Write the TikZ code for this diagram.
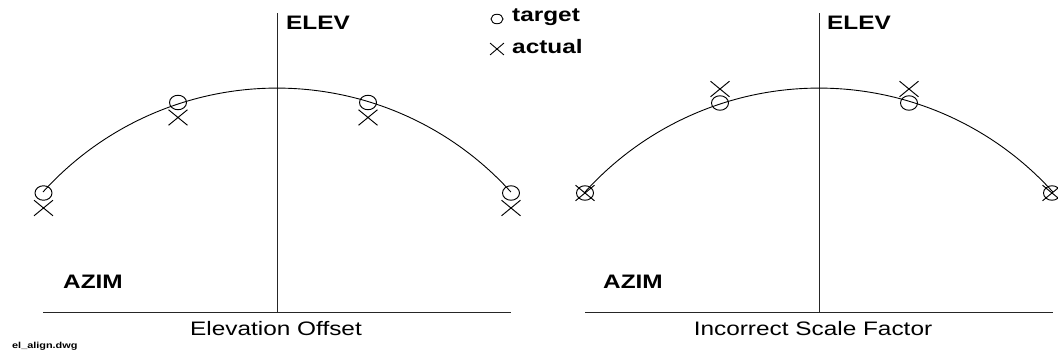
\documentclass[tikz,border=0pt]{standalone}
\usepackage{fontspec}
\setmainfont{Liberation Sans}
\usetikzlibrary{shapes.geometric,shapes.misc}
\tikzset{
  axisline/.style={line width=0.9pt, black!85},
  curveline/.style={line width=0.9pt, black},
  tgt/.style={draw, ellipse, line width=0.95pt, minimum width=17pt, minimum height=14.5pt, inner sep=0pt},
  act/.style={draw, cross out, line width=0.95pt, minimum width=18pt, minimum height=14.6pt, inner sep=0pt},
  ltgt/.style={draw, ellipse, line width=0.9pt, minimum width=12pt, minimum height=9.5pt, inner sep=0pt},
  lact/.style={draw, cross out, line width=0.9pt, minimum width=13pt, minimum height=11pt, inner sep=0pt},
  lbl/.style={inner sep=0pt, anchor=base west, font=\fontsize{19.5}{22}\selectfont\bfseries},
  ttl/.style={inner sep=0pt, anchor=base, font=\fontsize{19.5}{22}\selectfont},
  fname/.style={inner sep=0pt, anchor=base west, font=\fontsize{8.7}{10}\selectfont\bfseries}
}
\newcommand{\hs}[1]{\scalebox{1.25}[1]{#1}}
\begin{document}
\begin{tikzpicture}[x=1pt,y=-1pt]
\fill[white] (0,0) rectangle (1058,356);
\useasboundingbox (0,0) rectangle (1058,356);

% ---------- left panel ----------
\coordinate (LT) at (277,13);
\coordinate (LB) at (277,312);
\coordinate (LL) at (43,312);
\coordinate (LR) at (511,312);
\coordinate (LC0) at (43,192);
\draw[axisline] (LT) -- (LB);
\draw[axisline] (LL) -- (LR);
\draw[curveline] (LC0) arc[start angle=137.9, end angle=42.1, radius=315.3pt];

\node[tgt] (lt1) at (43.5,193) {};
\node[tgt] (lt2) at (178,102.5) {};
\node[tgt] (lt3) at (368,102.5) {};
\node[tgt] (lt4) at (511,193) {};
\node[act] (la1) at (43.5,208) {};
\node[act] (la2) at (178,117.5) {};
\node[act] (la3) at (368,117.5) {};
\node[act] (la4) at (511,208) {};

\node[lbl] (lelev) at (286,29) {\hs{ELEV}};
\node[lbl] (lazim) at (63,288) {\hs{AZIM}};
\node[ttl] (ltitle) at (276,335) {\hs{Elevation Offset}};

% ---------- legend ----------
\node[ltgt] (legt) at (497,19) {};
\node[lact] (lega) at (497,49) {};
\node[lbl] (legtt) at (512,21) {\hs{target}};
\node[lbl] (legat) at (512,53) {\hs{actual}};

% ---------- right panel ----------
\coordinate (RT) at (819,13);
\coordinate (RB) at (819,312);
\coordinate (RL) at (585,312);
\coordinate (RR) at (1053,312);
\coordinate (RC0) at (585,192);
\draw[axisline] (RT) -- (RB);
\draw[axisline] (RL) -- (RR);
\draw[curveline] (RC0) arc[start angle=137.9, end angle=42.1, radius=315.3pt];

\node[tgt] (rt1) at (585,193) {};
\node[tgt] (rt2) at (720,103) {};
\node[tgt] (rt3) at (909,103) {};
\node[tgt] (rt4) at (1052,193) {};
\node[act] (ra1) at (585,193) {};
\node[act] (ra2) at (720,89) {};
\node[act] (ra3) at (909,89) {};
\node[act] (ra4) at (1052,193) {};

\node[lbl] (relev) at (827,29) {\hs{ELEV}};
\node[lbl] (razim) at (603,288) {\hs{AZIM}};
\node[ttl] (rtitle) at (813,335) {\hs{Incorrect Scale Factor}};

\node[fname] (file) at (12,348) {\hs{el\_align.dwg}};
\end{tikzpicture}
\end{document}
